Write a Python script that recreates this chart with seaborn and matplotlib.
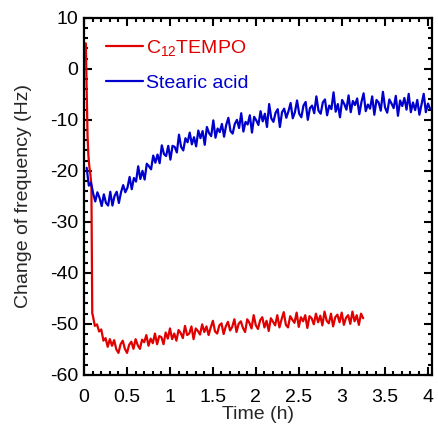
import numpy as np
import matplotlib
matplotlib.use("Agg")
import matplotlib.pyplot as plt
from matplotlib.ticker import MultipleLocator
import seaborn as sns

# Stearic acid (blue) - sampled every 0.025 h from 0.03 h
blue_time = np.arange(161) * 0.025 + 0.03
blue_freq = [
    -19.4, -22.9, -22.3, -24.4, -26.0, -24.2, -25.3, -26.9, -24.6, -26.3,
    -26.8, -24.1, -26.8, -24.9, -24.1, -26.3, -24.2, -22.8, -24.2, -23.3,
    -21.2, -23.6, -21.4, -22.1, -19.1, -21.6, -20.0, -21.7, -18.6, -19.1,
    -19.7, -17.0, -18.4, -16.8, -18.5, -15.0, -16.7, -17.1, -15.1, -17.8,
    -15.1, -15.3, -16.4, -12.9, -15.3, -16.0, -13.6, -14.4, -12.5, -14.8,
    -13.4, -15.2, -12.1, -13.6, -12.2, -14.9, -11.4, -12.6, -13.2, -10.1,
    -13.5, -11.7, -12.4, -10.8, -13.3, -11.0, -9.6, -12.2, -12.7, -10.8,
    -10.0, -11.6, -8.7, -12.3, -10.4, -10.9, -9.1, -12.5, -9.4, -10.1,
    -11.0, -8.3, -10.3, -8.8, -11.4, -6.9, -9.7, -10.4, -8.6, -7.9,
    -11.4, -8.5, -7.8, -9.6, -8.3, -6.7, -9.7, -8.5, -6.2, -8.8,
    -9.5, -7.2, -6.5, -10.0, -7.7, -7.2, -8.7, -5.4, -8.2, -8.8,
    -6.6, -6.0, -9.1, -7.2, -7.9, -4.6, -8.4, -6.9, -9.5, -6.1,
    -6.9, -8.0, -5.2, -8.5, -6.3, -7.1, -5.8, -8.9, -6.5, -4.8,
    -8.3, -7.0, -7.8, -5.4, -9.0, -6.1, -6.6, -8.2, -4.5, -7.6,
    -8.6, -6.0, -6.8, -7.7, -5.3, -9.2, -6.2, -7.3, -5.7, -8.0,
    -4.9, -8.5, -6.6, -8.1, -6.1, -9.0, -7.0, -4.9, -8.5, -6.8,
    -7.9,
]

# C12TEMPO (red) - fast initial drop, then sampled every 0.025 h from 0.10 h
red_time_start = [0.02, 0.03, 0.04, 0.05, 0.06, 0.075, 0.085, 0.09, 0.095]
red_freq_start = [5.0, -4.0, -13.0, -17.0, -19.0, -21.0, -23.0, -36.0, -48.0]
red_time_rest = np.arange(127) * 0.025 + 0.10
red_freq_rest = [
    -48.2, -50.4, -50.1, -51.5, -51.1, -53.3, -52.8, -54.5, -53.0, -54.3,
    -53.2, -55.0, -55.7, -54.0, -53.3, -54.9, -55.7, -54.1, -53.5, -54.9,
    -53.0, -54.2, -54.9, -53.1, -53.6, -52.2, -54.3, -52.9, -53.8, -51.9,
    -54.0, -52.4, -52.6, -54.0, -51.7, -52.9, -50.9, -53.0, -51.9, -53.3,
    -51.2, -51.8, -52.8, -50.4, -52.2, -51.9, -50.5, -53.0, -50.9, -51.4,
    -52.1, -50.1, -51.6, -50.5, -52.2, -50.7, -49.4, -51.5, -51.9, -50.3,
    -49.9, -52.0, -50.5, -49.6, -51.3, -50.6, -49.1, -51.6, -50.0, -49.5,
    -50.8, -51.6, -49.1, -49.8, -50.9, -48.3, -50.3, -51.0, -49.3, -48.7,
    -50.7, -49.4, -51.4, -48.9, -49.6, -50.3, -48.3, -50.7, -49.1, -47.7,
    -50.2, -50.7, -48.5, -49.2, -49.8, -47.8, -50.6, -48.7, -49.5, -48.3,
    -50.8, -48.5, -48.9, -50.1, -48.0, -49.7, -48.4, -50.3, -47.6, -49.4,
    -49.9, -48.0, -50.5, -48.7, -48.2, -49.7, -47.8, -50.2, -48.8, -48.3,
    -50.0, -47.6, -49.5, -48.3, -50.2, -48.0, -48.9,
]
red_time = np.concatenate([red_time_start, red_time_rest])
red_freq = red_freq_start + red_freq_rest

sns.set_style("ticks")
plt.rcParams['font.family'] = ['Liberation Sans', 'DejaVu Sans']
plt.rcParams['mathtext.fontset'] = 'custom'
plt.rcParams['mathtext.rm'] = 'Liberation Sans'
plt.rcParams['mathtext.it'] = 'Liberation Sans'
plt.rcParams['axes.unicode_minus'] = False

fig = plt.figure(figsize=(4.38, 4.25), dpi=100)
ax = fig.add_axes([0.192, 0.118, 0.794, 0.840])

sns.lineplot(x=red_time, y=red_freq, ax=ax, color='#e00000', linewidth=1.6,
             label='C$_{12}$TEMPO', estimator=None, sort=False)
sns.lineplot(x=blue_time, y=blue_freq, ax=ax, color='#0000cc', linewidth=1.6,
             label='Stearic acid', estimator=None, sort=False)

ax.set_xlim(0, 4.05)
ax.set_ylim(-60, 10)
ax.xaxis.set_minor_locator(MultipleLocator(0.1))
ax.yaxis.set_major_locator(MultipleLocator(10))
ax.yaxis.set_minor_locator(MultipleLocator(2))
ax.set_xticks(np.arange(0, 4.01, 0.5))
ax.set_xticklabels(['0', '0.5', '1', '1.5', '2', '2.5', '3', '3.5', '4'])

ax.tick_params(which='both', direction='in', top=True, right=True,
               labelsize=14, colors='black', width=1.5)
ax.tick_params(which='major', length=6)
ax.tick_params(which='minor', length=3)
ax.tick_params(axis='x', which='major', pad=10)
ax.tick_params(axis='y', which='major', pad=4)
for s in ax.spines.values():
    s.set_linewidth(1.6)
    s.set_color('black')

ax.set_xlabel('Time (h)', fontsize=14, labelpad=0)
ax.set_ylabel('Change of frequency (Hz)', fontsize=14, labelpad=13)

ax.legend(loc='upper left', bbox_to_anchor=(0.064, 0.944), frameon=False,
          fontsize=14, handlelength=1.86, handletextpad=0.2, borderpad=0,
          borderaxespad=0, labelspacing=0.86, labelcolor='linecolor')

fig.savefig('out.png', dpi=100)
